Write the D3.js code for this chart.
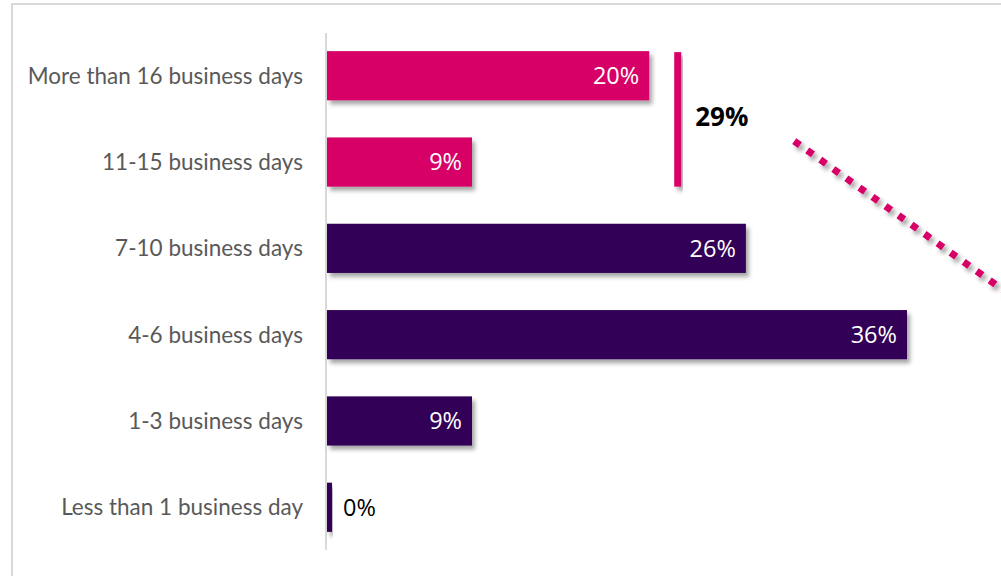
<!DOCTYPE html>
<html>
<head>
<meta charset="utf-8">
<script src="https://cdn.jsdelivr.net/npm/d3@7"></script>
<style>
  html, body { margin: 0; padding: 0; background: #ffffff; }
  svg { display: block; }
</style>
</head>
<body>
<div id="chart"></div>
<script>
// Time taken, by category (share of respondents, %)
const categories = [
  "More than 16 business days",
  "11-15 business days",
  "7-10 business days",
  "4-6 business days",
  "1-3 business days",
  "Less than 1 business day"
];
const values = [20, 9, 26, 36, 9, 0];
const valueLabels = ["20%", "9%", "26%", "36%", "9%", "0%"];
// Which bars belong to the highlighted group
const groups = ["long", "long", "short", "short", "short", "short"];
const groupTotalLabel = "29%";

const W = 1001, H = 576;
const colors = { long: "#d70066", short: "#300056" };

const svg = d3.select("#chart").append("svg")
  .attr("width", W).attr("height", H);

// soft drop shadow used by bars and annotations
const defs = svg.append("defs");
const shadow = defs.append("filter").attr("id", "shadow")
  .attr("x", "-20%").attr("y", "-20%").attr("width", "140%").attr("height", "160%");
shadow.append("feDropShadow")
  .attr("dx", 3).attr("dy", 4).attr("stdDeviation", 2.2)
  .attr("flood-color", "#000").attr("flood-opacity", 0.35);

// outer frame
svg.append("rect")
  .attr("x", 12).attr("y", 4).attr("width", W + 20).attr("height", H + 20)
  .attr("fill", "none").attr("stroke", "#d9d9d9").attr("stroke-width", 2);

const x0 = 327;
const x = d3.scaleLinear().domain([0, 36]).range([x0, 907]);
const y = d3.scaleBand().domain(categories)
  .range([33, 550]).paddingInner(0.43).paddingOuter(0.21);

const minBarWidth = 5;

// category axis line
svg.append("line")
  .attr("x1", x0 - 1).attr("x2", x0 - 1)
  .attr("y1", 33).attr("y2", 550)
  .attr("stroke", "#d9d9d9").attr("stroke-width", 2);

const rows = categories.map((c, i) => ({
  cat: c, v: values[i], label: valueLabels[i], g: groups[i]
}));

// bars
svg.append("g").selectAll("rect").data(rows).join("rect")
  .attr("x", x0)
  .attr("y", d => y(d.cat))
  .attr("width", d => Math.max(x(d.v) - x0, minBarWidth))
  .attr("height", y.bandwidth())
  .attr("fill", d => colors[d.g])
  .attr("filter", "url(#shadow)");

// category labels
svg.append("g").selectAll("text").data(rows).join("text")
  .attr("x", 303)
  .attr("y", d => y(d.cat) + y.bandwidth() / 2)
  .attr("dy", "0.35em")
  .attr("text-anchor", "end")
  .attr("font-family", "Lato, 'Open Sans', sans-serif")
  .attr("font-size", 22.5)
  .attr("fill", "#595959")
  .text(d => d.cat);

// value labels: inside the bar end, or just past it for tiny bars
svg.append("g").selectAll("text").data(rows).join("text")
  .attr("x", d => d.v > 3 ? x(d.v) - 10 : Math.max(x(d.v), x0 + minBarWidth) + 11)
  .attr("y", d => y(d.cat) + y.bandwidth() / 2)
  .attr("dy", "0.36em")
  .attr("text-anchor", d => d.v > 3 ? "end" : "start")
  .attr("font-family", "'Open Sans', Lato, sans-serif")
  .attr("font-size", 23.5)
  .attr("fill", d => d.v > 3 ? "#ffffff" : "#000000")
  .text(d => d.label);

// bracket grouping the long-duration bars
const longRows = rows.filter(d => d.g === "long");
const bracketTop = y(longRows[0].cat);
const bracketBottom = y(longRows[longRows.length - 1].cat) + y.bandwidth();
const bracketX = x(d3.max(longRows, d => d.v)) + 25;
svg.append("rect")
  .attr("x", bracketX).attr("y", bracketTop + 1)
  .attr("width", 7).attr("height", bracketBottom - bracketTop - 1)
  .attr("fill", colors.long)
  .attr("filter", "url(#shadow)");

svg.append("text")
  .attr("x", bracketX + 21)
  .attr("y", (bracketTop + bracketBottom) / 2 - 2)
  .attr("dy", "0.35em")
  .attr("font-family", "'Open Sans', Lato, sans-serif")
  .attr("font-weight", 700)
  .attr("font-size", 26)
  .attr("fill", "#000000")
  .text(groupTotalLabel);

// dotted connector leading off to the right
svg.append("line")
  .attr("x1", bracketX + 120).attr("y1", bracketTop + 90)
  .attr("x2", bracketX + 360).attr("y2", bracketTop + 261)
  .attr("stroke", colors.long)
  .attr("stroke-width", 7)
  .attr("stroke-dasharray", "7 9")
  .attr("filter", "url(#shadow)");
</script>
</body>
</html>
